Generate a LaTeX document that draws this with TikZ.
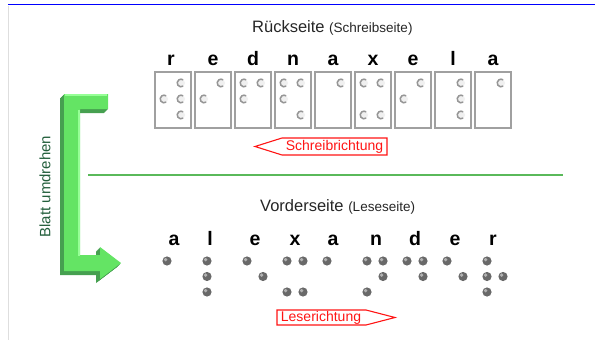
\documentclass[tikz,border=0pt]{standalone}
\usepackage{fontspec}
\setmainfont{Liberation Sans}
\definecolor{boxgray}{RGB}{160,160,160}
\definecolor{ringgray}{RGB}{150,150,150}
\definecolor{dotgray}{RGB}{105,105,105}
\definecolor{arrowred}{RGB}{255,20,20}
\definecolor{greenfront}{RGB}{100,228,100}
\definecolor{greenlight}{RGB}{150,255,150}
\definecolor{greendark}{RGB}{70,160,80}
\definecolor{greenline}{RGB}{90,185,90}
\definecolor{greentext}{RGB}{35,95,60}
\definecolor{borderblue}{RGB}{0,0,255}
\definecolor{bordergray}{RGB}{222,222,222}
\tikzset{
  cellbox/.style={draw=boxgray, line width=1.2pt, fill=white},
  brletter/.style={font=\fontsize{19.5}{21}\selectfont\bfseries, anchor=base, inner sep=0pt},
  titletext/.style={font=\fontsize{16.5}{19}\selectfont, text=black!85, anchor=base west, inner sep=0pt},
  dirlabel/.style={font=\fontsize{14}{16}\selectfont, text=arrowred, inner sep=0pt},
  dirshape/.style={draw=arrowred, line width=1.1pt, line join=miter},
}
\newcommand{\brsmall}[1]{{\fontsize{13.5}{16}\selectfont #1}}
\begin{document}
\begin{tikzpicture}[x=1pt,y=-1pt]
\useasboundingbox (0,0) rectangle (595,340);
% page frame
\draw[bordergray, line width=1.5pt] (8.5,6) -- (8.5,340);
\draw[borderblue, line width=1.5pt] (8,4.5) -- (595,4.5);

% titles
\node[titletext] (backtitle) at (252,32.5) {Rückseite \brsmall{(Schreibseite)}};
\node[titletext] (fronttitle) at (260,211) {Vorderseite \brsmall{(Leseseite)}};

% back side letters
\foreach \ch [count=\k] / \xx in {r/171, e/213, d/253, n/293, a/333, x/373, e/413, l/453, a/493}
  \node[brletter] (b\k) at (\xx,65) {\ch};
% back side cells
\foreach \k in {0,...,8}
  \draw[cellbox] (155+40*\k,72) rectangle ++(36,56);
% back side dots (mirrored)
\foreach \k/\c/\r in {0/1/1,0/1/2,0/1/3,0/0/2,
                      1/1/1,1/0/2,
                      2/1/1,2/0/1,2/0/2,
                      3/1/1,3/1/3,3/0/1,3/0/2,
                      4/1/1,
                      5/0/1,5/1/1,5/0/3,5/1/3,
                      6/1/1,6/0/2,
                      7/1/1,7/1/2,7/1/3,
                      8/1/1}{
  \coordinate (bd) at (164+40*\k+17*\c, 83+16*\r-16);
  \fill[gray!12] (bd) circle (4);
  \draw[ringgray, line width=1.5pt] (bd) ++(55:3.8) arc[start angle=55, end angle=305, radius=3.8];
}

% Schreibrichtung arrow
\node[dirlabel] (schreib) at (334.5,146.5) {Schreibrichtung};
\draw[dirshape] (282,138) -- (387,138) -- (387,155) -- (282,155) -- (255,146.5) -- cycle;

% separator line
\draw[greenline, line width=1.5pt] (88,175) -- (563,175);

% front side letters
\foreach \ch [count=\k] / \xx in {a/174, l/210, e/255, x/295, a/333, n/376, d/415, e/455, r/493}
  \node[brletter] (f\k) at (\xx,245) {\ch};
% front side dots
\foreach \k/\c/\r in {0/0/1,
                      1/0/1,1/0/2,1/0/3,
                      2/0/1,2/1/2,
                      3/0/1,3/1/1,3/0/3,3/1/3,
                      4/0/1,
                      5/0/1,5/1/1,5/1/2,5/0/3,
                      6/0/1,6/1/1,6/1/2,
                      7/0/1,7/1/2,
                      8/0/1,8/0/2,8/0/3,8/1/2}{
  \coordinate (fd) at (167+40*\k+16*\c, 261+15.5*\r-15.5);
  \fill[dotgray] (fd) circle (4.6);
  \fill[gray!60] (fd) ++(-1.4,-1.4) circle (1.8);
}

% Leserichtung arrow
\node[dirlabel] (lese) at (321,317.5) {Leserichtung};
\draw[dirshape] (277,310) -- (366,310) -- (395,317.5) -- (366,325) -- (277,325) -- cycle;

% green turn-over arrow (extruded)
\foreach \s in {4,3.5,3,2.5,2,1.5,1,0.5}
  \fill[greendark, shift={(-\s,\s)}]
    (64,94) -- (108,94) -- (108,109) -- (80,109) -- (80,255) -- (100,255) -- (100,247)
    -- (121,263) -- (100,279) -- (100,271) -- (64,271) -- cycle;
\fill[greenfront]
    (64,94) -- (108,94) -- (108,109) -- (80,109) -- (80,255) -- (100,255) -- (100,247)
    -- (121,263) -- (100,279) -- (100,271) -- (64,271) -- cycle;
\draw[greenlight, line width=2pt] (78.5,110) -- (78.5,256);
\draw[greenlight, line width=1.5pt] (65,95) -- (107,95);

% label
\node[rotate=90, font=\fontsize{15}{17}\selectfont, text=greentext, inner sep=0pt] (turn) at (45,186.5) {Blatt umdrehen};
\end{tikzpicture}
\end{document}
